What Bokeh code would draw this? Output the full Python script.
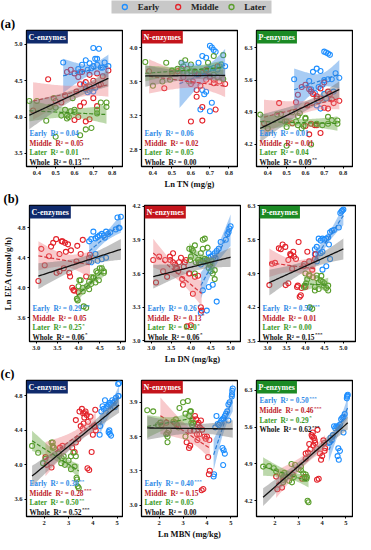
import numpy as np
from bokeh.plotting import figure
from bokeh.models import Range1d, FixedTicker, Label, NumeralTickFormatter, FactorRange, ColumnDataSource
from bokeh.layouts import column, row
from bokeh.transform import dodge
from bokeh.core.properties import value
from bokeh.embed import file_html
from bokeh.resources import INLINE

FONT = "Liberation Serif"

# ---------------- data (one entry per sample, per stage) ----------------
E_TN  = [0.70,0.71,0.72,0.73,0.66,0.68,0.64,0.76,0.78,0.72,0.70,0.74,0.62,0.54,0.67,0.63,0.69,0.75,0.66,0.68,0.67,0.71,0.65,0.70]
E_DN  = [5.00,4.97,4.95,4.92,4.88,4.75,4.70,4.65,4.60,4.55,4.50,4.45,4.40,4.35,4.30,4.25,4.62,4.45,4.55,4.45,4.30,4.65,4.40,4.25]
E_MBN = [5.08,5.06,5.05,5.04,4.95,4.90,4.85,4.80,4.75,4.70,4.65,4.60,4.55,4.50,4.45,4.35,4.90,4.40,4.65,4.70,4.75,4.68,4.30,4.28]
E_C   = [4.95,4.80,4.80,4.94,4.78,4.74,4.72,4.75,4.70,4.72,4.70,4.68,4.66,4.75,4.65,4.62,4.67,4.68,4.38,4.36,4.34,4.40,4.45,4.35]
E_N   = [4.02,4.00,3.97,3.95,3.90,3.88,3.82,3.80,3.78,3.76,3.75,3.74,3.72,3.70,3.71,3.68,3.74,3.78,3.50,3.48,3.45,3.35,3.27,3.25]
E_P   = [6.22,6.20,6.18,6.15,5.85,5.80,5.78,5.75,5.65,5.62,5.60,5.62,5.58,5.62,5.45,5.40,5.50,5.35,5.05,4.98,5.15,5.20,5.32,5.30]

M_TN  = [0.38,0.62,0.68,0.53,0.50,0.65,0.63,0.60,0.66,0.73,0.66,0.63,0.46,0.78,0.72,0.70,0.58,0.60,0.62,0.64,0.66,0.68,0.70,0.72,0.74,0.75,0.56,0.68,0.61,0.55]
M_DN  = [3.05,3.85,3.88,3.48,3.55,3.78,3.80,3.90,4.00,4.27,4.25,4.05,3.12,4.10,4.18,3.65,3.47,3.40,3.35,3.60,3.70,3.75,3.82,3.68,3.55,3.97,3.62,3.30,3.95,3.20]
M_MBN = [2.05,2.10,2.30,2.65,2.75,3.15,3.25,3.78,3.85,4.08,4.12,4.05,3.30,4.10,3.95,3.30,3.55,3.60,3.65,3.70,3.62,3.75,3.80,3.68,3.50,3.90,3.45,3.58,4.00,3.40]
M_C   = [4.09,4.00,3.97,4.20,4.22,4.20,4.15,3.96,3.94,4.44,4.40,4.45,4.52,4.64,4.15,4.26,4.65,4.60,4.55,4.62,4.48,4.58,4.50,4.60,4.45,4.56,4.62,4.42,4.35,4.30]
M_N   = [3.72,3.70,3.72,3.72,3.70,3.55,3.50,3.13,3.14,3.27,3.30,3.42,3.52,3.57,3.58,3.65,3.75,3.57,3.72,3.68,3.70,3.74,3.66,3.62,3.78,3.60,3.65,3.62,3.60,3.75]
M_P   = [4.66,4.42,4.45,4.66,4.70,4.62,4.65,4.60,4.62,5.30,5.20,5.35,5.10,5.15,4.98,5.00,5.45,5.50,5.40,5.30,5.25,5.20,5.55,5.35,5.18,5.10,5.28,5.42,5.05,5.12]

L_TN  = [0.63,0.50,0.66,0.69,0.55,0.60,0.57,0.53,0.58,0.72,0.77,0.74,0.49,0.59,0.40,0.36,0.47,0.56,0.60,0.77,0.50,0.72,0.56,0.45]
L_DN  = [4.12,4.18,3.98,3.96,4.02,4.05,4.10,4.00,4.25,4.30,4.35,4.45,4.50,4.55,4.60,4.42,4.30,4.20,4.40,4.60,4.35,4.48,4.25,4.10]
L_MBN = [3.38,3.42,3.35,3.33,3.30,3.10,2.85,2.70,2.72,3.00,3.20,2.40,2.30,2.35,2.35,1.50,1.75,1.95,2.05,2.35,2.60,2.80,3.25,3.10]
L_C   = [3.75,3.73,3.83,3.85,4.10,4.10,4.00,4.02,4.08,4.05,4.14,4.20,4.26,4.26,4.22,4.22,4.14,4.02,4.07,4.20,4.13,4.10,3.98,3.95]
L_N   = [3.70,3.72,3.72,3.82,3.82,3.80,3.85,3.75,3.70,3.90,3.91,3.65,3.62,3.60,3.55,3.83,3.82,3.70,3.72,3.63,3.73,3.68,3.78,3.60]
L_P   = [4.20,4.17,4.65,4.62,4.70,4.78,4.88,4.90,4.55,4.80,4.72,4.73,4.70,4.60,4.55,4.85,4.86,4.82,4.76,4.65,4.58,4.65,4.62,4.85]

GROUPS = ["Early", "Middle", "Later"]
DATA = {
    "Early":  {"TN": E_TN, "DN": E_DN, "MBN": E_MBN, "C": E_C, "N": E_N, "P": E_P},
    "Middle": {"TN": M_TN, "DN": M_DN, "MBN": M_MBN, "C": M_C, "N": M_N, "P": M_P},
    "Later":  {"TN": L_TN, "DN": L_DN, "MBN": L_MBN, "C": L_C, "N": L_N, "P": L_P},
}

ROW_X = ["TN", "DN", "MBN"]
COL_Y = ["C", "N", "P"]
HEADERS = ["C-enzymes", "N-enzymes", "P-enzymes"]
TAGS = ["(a)", "(b)", "(c)"]
X_TITLES = ["Ln TN (mg/g)", "Ln DN (mg/kg)", "Ln MBN (mg/kg)"]
Y_TITLE = "Ln EEA (nmol/g/h)"
X_TICKS = [[0.4, 0.5, 0.6, 0.7, 0.8], [3.0, 3.5, 4.0, 4.5, 5.0], [2, 3, 4, 5]]
Y_TICKS = [[[3.5, 4.0, 4.5, 5.0], [2.8, 3.2, 3.6, 4.0], [4.2, 4.9, 5.6, 6.3]],
           [[3.6, 4.0, 4.4, 4.8], [3.0, 3.3, 3.6, 3.9, 4.2], [3.5, 4.2, 4.9, 5.6, 6.3]],
           [[3.6, 4.0, 4.4, 4.8], [3.0, 3.3, 3.6, 3.9], [4.2, 4.9, 5.6, 6.3]]]
X_RANGES = [[(0.345, 0.855), (0.34, 0.845), (0.34, 0.85)],
            [(2.84, 5.11), (2.83, 5.25), (2.79, 5.32)],
            [(1.27, 5.22), (1.26, 5.28), (1.22, 5.28)]]
Y_RANGES = [[(3.32, 5.19), (2.6, 4.2), (3.72, 6.68)],
            [(3.28, 5.10), (2.995, 4.205), (3.495, 6.305)],
            [(3.40, 4.98), (2.90, 4.09), (3.90, 6.49)]]
R2 = [[["0.04", "0.05", "0.01", "0.13***"], ["0.06", "0.02", "0.05", "0.00"], ["0.01", "0.01", "0.04", "0.09**"]],
      [["0.29***", "0.05", "0.25*", "0.06*"], ["0.26*", "0.13*", "0.20*", "0.06*"], ["0.56***", "0.01", "0.00", "0.15***"]],
      [["0.30**", "0.28***", "0.50**", "0.52***"], ["0.40***", "0.15*", "0.05", "0.00"], ["0.50***", "0.46***", "0.29*", "0.62***"]]]
R2_NAMES = ["Early", "Middle", "Later", "Whole"]

# ---------------- styles ----------------
PT = {"Early": "#1f8fff", "Middle": "#e3232b", "Later": "#5a9e2c"}
LN = {"Early": "#2a7fd8", "Middle": "#d8353d", "Later": "#3f8a22"}
BAND = {"Early": ("#3d8ee6", 0.45), "Middle": ("#ee7b80", 0.40), "Later": ("#6aa844", 0.45)}
TXT = {"Early": "#2f8ae6", "Middle": "#c0232b", "Later": "#3a9a1f", "Whole": "#111111"}
HEAD_COL = ["#0f2a6c", "#c4141c", "#1b8a24"]

FW, FH = 96, 136
LB0, LB = 26, 18
TOP, BOT = 14, 22

CW = {' ': 250, '\u2002': 500, 'E': 667, 'a': 500, 'r': 444, 'l': 278, 'y': 500, 'M': 944, 'i': 278,
      'd': 556, 'e': 444, 'L': 667, 't': 333, 'W': 1000, 'h': 556, 'o': 500, 'R': 722, '\u00b2': 300,
      '=': 570, '.': 250}


def text_w(s, size):
    return sum(CW.get(ch, 500) for ch in s) * size / 1000.0


def fit(x, y, xs):
    x = np.asarray(x, float); y = np.asarray(y, float)
    n = len(x)
    b, a = np.polyfit(x, y, 1)
    res = y - (a + b * x)
    s = np.sqrt(np.sum(res ** 2) / (n - 2))
    sxx = np.sum((x - x.mean()) ** 2)
    t = 1.96 + 2.4 / (n - 2)
    se = s * np.sqrt(1.0 / n + (xs - x.mean()) ** 2 / sxx)
    yh = a + b * xs
    return yh, yh - t * se, yh + t * se


def make_panel(ri, ci):
    first = ci == 0
    p = figure(frame_width=FW, frame_height=FH,
               x_range=Range1d(*X_RANGES[ri][ci]), y_range=Range1d(*Y_RANGES[ri][ci]),
               output_backend="svg", toolbar_location=None,
               min_border_left=LB0 if first else LB, min_border_right=1,
               min_border_top=TOP, min_border_bottom=BOT)
    p.xgrid.visible = False
    p.ygrid.visible = False
    p.outline_line_color = "black"
    p.outline_line_width = 1.3
    p.outline_line_alpha = 1.0
    for ax in (p.xaxis[0], p.yaxis[0]):
        ax.major_label_text_font = FONT
        ax.major_label_text_font_style = "bold"
        ax.major_label_text_font_size = "6.5px"
        ax.major_label_text_color = "#222222"
        ax.major_tick_in = 0
        ax.major_tick_out = 2
        ax.minor_tick_in = 0
        ax.minor_tick_out = 0
        ax.major_label_standoff = 2
        ax.axis_line_color = "black"
        ax.axis_label_text_font = FONT
        ax.axis_label_text_font_style = "bold"
        ax.axis_label_text_font_size = "8.5px"
        ax.axis_label_text_color = "#111111"
        ax.axis_label_standoff = 1
    p.xaxis.ticker = FixedTicker(ticks=X_TICKS[ri])
    p.yaxis.ticker = FixedTicker(ticks=Y_TICKS[ri][ci])
    p.xaxis.formatter = NumeralTickFormatter(format="0" if ri == 2 else "0.0")
    p.yaxis.formatter = NumeralTickFormatter(format="0.0")
    if ci == 1:
        p.xaxis.axis_label = X_TITLES[ri]
    if ri == 1 and ci == 0:
        p.yaxis.axis_label = Y_TITLE
        p.yaxis.axis_label_text_font_size = "9px"
        p.yaxis.axis_label_standoff = 1
    if first:
        p.title.text = TAGS[ri]
        p.title.align = "left"
        p.title.offset = -LB0
        p.title.standoff = 0
        p.title.vertical_align = "bottom"
        p.title.text_font = FONT
        p.title.text_font_style = "bold"
        p.title.text_font_size = "12.5px"
        p.title.text_color = "black"

    xk, yk = ROW_X[ri], COL_Y[ci]
    allx, ally = [], []
    for g in GROUPS:
        x = DATA[g][xk]; y = DATA[g][yk]
        p.scatter(x, y, marker="circle", size=5, fill_color=None, line_color=PT[g], line_width=1.1)
        allx += list(x); ally += list(y)
    for g in GROUPS:
        x = DATA[g][xk]; y = DATA[g][yk]
        xs = np.linspace(min(x), max(x), 60)
        yh, lo, hi = fit(x, y, xs)
        col, al = BAND[g]
        p.varea(x=xs, y1=lo, y2=hi, fill_color=col, fill_alpha=al)
        p.line(xs, yh, line_color=LN[g], line_width=1.2, line_dash="4 2")
    xs = np.linspace(min(allx), max(allx), 60)
    yh, lo, hi = fit(allx, ally, xs)
    p.varea(x=xs, y1=lo, y2=hi, fill_color="#777777", fill_alpha=0.45)
    p.line(xs, yh, line_color="#111111", line_width=1.3)

    # header box
    p.add_layout(Label(x=0, y=FH, x_units="screen", y_units="screen", text=HEADERS[ci],
                       text_align="left", text_baseline="top", text_font=FONT,
                       text_font_style="bold", text_font_size="8px", text_color="white",
                       background_fill_color=HEAD_COL[ci], background_fill_alpha=1.0, padding=2))
    # R2 annotations
    if ri == 2 and ci == 2:
        ys = [FH - 20, FH - 30, FH - 39.5, FH - 49]
    else:
        ys = [33, 23.5, 14, 4.5]
    fs = 7.3
    for k, name in enumerate(R2_NAMES):
        val = R2[ri][ci][k]
        num = val.rstrip("*")
        stars = val[len(num):]
        main = f"{name}\u2002R\u00b2 = {num}"
        p.add_layout(Label(x=3, y=ys[k], x_units="screen", y_units="screen", text=main,
                           text_align="left", text_baseline="middle", text_font=FONT,
                           text_font_style="bold", text_font_size=f"{fs}px", text_color=TXT[name]))
        if stars:
            p.add_layout(Label(x=3 + text_w(main, fs) + 0.5, y=ys[k] + 2.5, x_units="screen", y_units="screen",
                               text=stars, text_align="left", text_baseline="middle", text_font=FONT,
                               text_font_style="bold", text_font_size="5px", text_color=TXT[name]))
    return p


rows = []
for ri in range(3):
    rows.append(row(*[make_panel(ri, ci) for ci in range(3)]))

TOTAL_W = (LB0 + FW + 1) + 2 * (LB + FW + 1)
LEG_LEFT, LEG_W = 111, 160
leg = figure(x_range=FactorRange(*GROUPS), y_range=Range1d(-1, 1),
             frame_width=LEG_W, frame_height=13, min_border_left=LEG_LEFT,
             min_border_right=TOTAL_W - LEG_LEFT - LEG_W, min_border_top=0, min_border_bottom=1,
             x_axis_location=None, y_axis_location=None,
             output_backend="svg", toolbar_location=None)
leg.outline_line_color = None
leg.grid.visible = False
leg.background_fill_color = "#c8c8c8"
src = ColumnDataSource(dict(g=GROUPS, y=[0, 0, 0], c=[PT[g] for g in GROUPS]))
leg.scatter(x=dodge("g", -0.25, range=leg.x_range), y="y", source=src, marker="circle", size=5,
            fill_color=None, line_color="c", line_width=1.3)
leg.text(x=dodge("g", -0.01, range=leg.x_range), y="y", text="g", source=src,
         text_align="left", text_baseline="middle", text_font=value(FONT),
         text_font_style="bold", text_font_size="9px", text_color="#222222")

layout = column(leg, *rows)
open("out.html", "w").write(file_html(layout, INLINE))
